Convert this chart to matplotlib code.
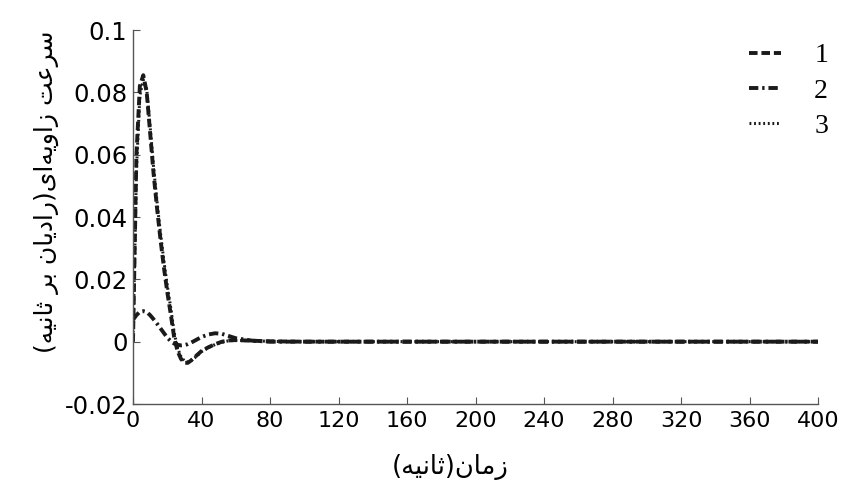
import matplotlib
matplotlib.use('Agg')
import matplotlib.pyplot as plt

# time (s) and angular velocity (rad/s)
t = [0, 2, 4, 6, 8, 10, 12, 14, 16, 18, 20, 22, 24, 26, 28, 30, 32, 34, 36, 38, 40,
     44, 48, 52, 56, 60, 70, 80, 100, 400]
w1 = [0.0, 0.06, 0.082, 0.0855, 0.08, 0.067, 0.054, 0.043, 0.033, 0.024, 0.016, 0.009,
      0.0015, -0.003, -0.0055, -0.0068, -0.0068, -0.006, -0.005, -0.004, -0.003,
      -0.0018, -0.0008, 0.0, 0.0004, 0.0005, 0.0003, 0.0001, 0.0, 0.0]
w2 = [0.007, 0.0085, 0.0096, 0.0098, 0.0095, 0.0085, 0.0072, 0.0058, 0.0043, 0.0028,
      0.0013, 0.0002, -0.0006, -0.001, -0.0012, -0.0011, -0.0008, -0.0003, 0.0003,
      0.0009, 0.0015, 0.0023, 0.0027, 0.0025, 0.0018, 0.0011, 0.0003, 0.0, 0.0, 0.0]
w3 = [0.0, 0.055, 0.079, 0.084, 0.081, 0.069, 0.056, 0.045, 0.035, 0.026, 0.018, 0.011,
      0.003, -0.002, -0.0048, -0.0062, -0.0065, -0.006, -0.0052, -0.0042, -0.0032,
      -0.0019, -0.0009, -0.0002, 0.0003, 0.0004, 0.0003, 0.0001, 0.0, 0.0]
labels = ['1', '2', '3']

xticks = list(range(0, 401, 40))
yticks = [-0.02, 0, 0.02, 0.04, 0.06, 0.08, 0.1]
ytick_labels = ['-0.02', '0', '0.02', '0.04', '0.06', '0.08', '0.1']

xlabel = 'زمان(ثانیه)'
ylabel = 'سرعت زاویه\u200cای(رادیان بر ثانیه)'


# matplotlib has no arabic shaping, so pick the presentation forms by hand
FORMS = {
    'ا': ('\uFE8D', '\uFE8E', None, None),
    'ب': ('\uFE8F', '\uFE90', '\uFE91', '\uFE92'),
    'ت': ('\uFE95', '\uFE96', '\uFE97', '\uFE98'),
    'ث': ('\uFE99', '\uFE9A', '\uFE9B', '\uFE9C'),
    'د': ('\uFEA9', '\uFEAA', None, None),
    'ر': ('\uFEAD', '\uFEAE', None, None),
    'ز': ('\uFEAF', '\uFEB0', None, None),
    'س': ('\uFEB1', '\uFEB2', '\uFEB3', '\uFEB4'),
    'ع': ('\uFEC9', '\uFECA', '\uFECB', '\uFECC'),
    'م': ('\uFEE1', '\uFEE2', '\uFEE3', '\uFEE4'),
    'ن': ('\uFEE5', '\uFEE6', '\uFEE7', '\uFEE8'),
    'ه': ('\uFEE9', '\uFEEA', '\uFEEB', '\uFEEC'),
    'و': ('\uFEED', '\uFEEE', None, None),
    'ی': ('\uFBFC', '\uFBFD', '\uFBFE', '\uFBFF'),
}


def shape(s):
    out = []
    for i, c in enumerate(s):
        if c not in FORMS:
            out.append(c)
            continue
        iso, fin, ini, med = FORMS[c]
        prev = s[i - 1] if i > 0 else None
        nxt = s[i + 1] if i + 1 < len(s) else None
        jp = prev in FORMS and FORMS[prev][2] is not None
        jn = nxt in FORMS and ini is not None
        if jp and jn:
            out.append(med)
        elif jp:
            out.append(fin)
        elif jn:
            out.append(ini)
        else:
            out.append(iso)
    vis = ''.join(out).replace('\u200c', '')[::-1]
    return vis.translate(str.maketrans('()', ')('))


fig = plt.figure(figsize=(8.59, 4.86), dpi=100)
ax = fig.add_axes([133 / 859, 1 - 404 / 486, 685 / 859, 374 / 486])

c = '#1a1a1a'
ax.plot(t, w1, color=c, lw=2.8, dashes=(2.2, 1.0), label=labels[0])
ax.plot(t, w2, color=c, lw=2.8, dashes=(2.4, 1.0, 0.6, 1.0), label=labels[1])
ax.plot(t, w3, color=c, lw=2.2, dashes=(0.6, 0.9), label=labels[2])

ax.set_xlim(0, 400)
ax.set_ylim(-0.02, 0.1)
ax.set_xticks(xticks)
ax.set_yticks(yticks)
ax.set_yticklabels(ytick_labels)
for side in ['top', 'right']:
    ax.spines[side].set_visible(False)
for side in ['left', 'bottom']:
    ax.spines[side].set_color('#555555')
    ax.spines[side].set_linewidth(1.0)
ax.tick_params(direction='in', length=5, color='#555555')
ax.tick_params(axis='x', labelsize=16, pad=5)
ax.tick_params(axis='y', labelsize=17.5, pad=4)
for lab in ax.get_xticklabels() + ax.get_yticklabels():
    lab.set_family('DejaVu Sans')

leg = ax.legend(loc='upper right', bbox_to_anchor=(828 / 859, 1 - 43 / 486),
                bbox_transform=fig.transFigure, frameon=False, borderpad=0,
                borderaxespad=0, handlelength=1.15, handletextpad=1.2,
                labelspacing=0.35, prop={'family': 'Liberation Serif', 'size': 20})

fig.text(450 / 859, 1 - 467 / 486, shape(xlabel), ha='center', va='center',
         fontsize=18.5, family=['DejaVu Sans'])
fig.text(46 / 859, 1 - 192 / 486, shape(ylabel), ha='center', va='center',
         rotation=90, fontsize=18, family=['DejaVu Sans'])

fig.savefig('out.png', dpi=100)
